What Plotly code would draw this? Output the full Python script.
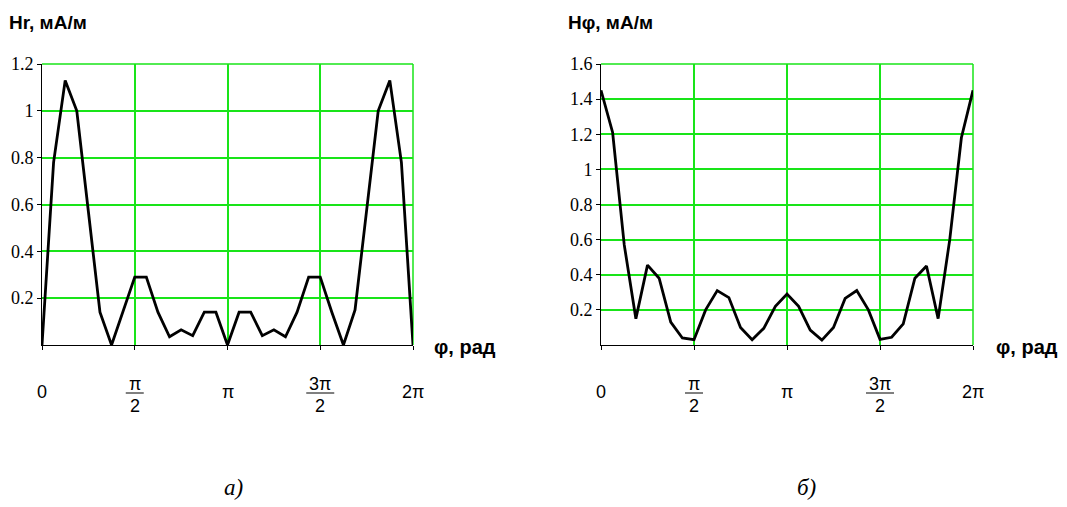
import plotly.graph_objects as go

# angle in units of pi (33 samples over 0..2pi)
phi_pi = [0, 0.0625, 0.125, 0.1875, 0.25, 0.3125, 0.375, 0.4375, 0.5,
          0.5625, 0.625, 0.6875, 0.75, 0.8125, 0.875, 0.9375, 1.0,
          1.0625, 1.125, 1.1875, 1.25, 1.3125, 1.375, 1.4375, 1.5,
          1.5625, 1.625, 1.6875, 1.75, 1.8125, 1.875, 1.9375, 2.0]

Hr = [0.0, 0.78, 1.13, 1.0, 0.57, 0.14, 0.0, 0.15, 0.29,
      0.29, 0.14, 0.035, 0.065, 0.04, 0.14, 0.14, 0.0,
      0.14, 0.14, 0.04, 0.065, 0.035, 0.14, 0.29, 0.29,
      0.14, 0.0, 0.15, 0.57, 1.0, 1.13, 0.78, 0.0]

Hphi = [1.45, 1.21, 0.57, 0.15, 0.455, 0.38, 0.13, 0.04, 0.03,
        0.20, 0.31, 0.27, 0.10, 0.03, 0.095, 0.22, 0.29,
        0.22, 0.085, 0.028, 0.10, 0.265, 0.31, 0.20, 0.032,
        0.044, 0.12, 0.38, 0.45, 0.15, 0.60, 1.18, 1.45]

x_tickvals = [0, 0.5, 1.0, 1.5, 2.0]
x_tick_num = ["0", "π", "π", "3π", "2π"]
x_tick_den = ["", "2", "", "2", ""]

y1_tickvals = [0.2, 0.4, 0.6, 0.8, 1.0, 1.2]
y1_ticktext = ["0.2", "0.4", "0.6", "0.8", "1", "1.2"]
y2_tickvals = [0.2, 0.4, 0.6, 0.8, 1.0, 1.2, 1.4, 1.6]
y2_ticktext = ["0.2", "0.4", "0.6", "0.8", "1", "1.2", "1.4", "1.6"]

y_titles = ["Hr, мА/м", "Hφ, мА/м"]
x_title = "φ, рад"
panel_labels = ["а)", "б)"]

W, H = 1067, 507
OFF = 8  # page body margin offset
GREEN = "rgb(25,228,25)"

fig = go.Figure()
fig.add_trace(go.Scatter(x=phi_pi, y=Hr, mode="lines", xaxis="x", yaxis="y",
                         line=dict(color="black", width=2.8), showlegend=False,
                         cliponaxis=False))
fig.add_trace(go.Scatter(x=phi_pi, y=Hphi, mode="lines", xaxis="x2", yaxis="y2",
                         line=dict(color="black", width=2.8), showlegend=False,
                         cliponaxis=False))

def px_x(p):
    return (p - OFF) / W

def px_y(p):
    return 1 - (p - OFF) / H

ydom = [px_y(345), px_y(64)]
common_x = dict(range=[0, 2], tickvals=x_tickvals, showticklabels=False,
                ticks="outside", ticklen=4, tickcolor="black", tickwidth=1,
                showline=True, linecolor="black", linewidth=1,
                showgrid=True, gridcolor=GREEN, gridwidth=1.5, zeroline=False,
                fixedrange=True, automargin=False)
common_y = dict(ticks="outside", ticklen=4, tickcolor="black", tickwidth=1,
                showline=True, linecolor="black", linewidth=1,
                showgrid=True, gridcolor=GREEN, gridwidth=1.5, zeroline=False,
                tickfont=dict(family="Liberation Serif", size=18, color="black"),
                domain=ydom, fixedrange=True, automargin=False)

fig.update_layout(
    template="none",
    width=W, height=H, margin=dict(l=0, r=0, t=0, b=0, pad=0, autoexpand=False),
    paper_bgcolor="white", plot_bgcolor="white", showlegend=False,
    xaxis=dict(domain=[px_x(42), px_x(413)], anchor="y", **common_x),
    xaxis2=dict(domain=[px_x(601), px_x(973)], anchor="y2", **common_x),
    yaxis=dict(range=[0, 1.2], tickvals=y1_tickvals, ticktext=y1_ticktext,
               anchor="x", **common_y),
    yaxis2=dict(range=[0, 1.6], tickvals=y2_tickvals, ticktext=y2_ticktext,
                anchor="x2", **common_y),
)

annotations = []
shapes = []
# top and right frame lines (grid coloured) at the range ends
for xd, yd in (("x domain", "y domain"), ("x2 domain", "y2 domain")):
    shapes.append(dict(type="line", xref=xd, yref=yd, x0=0, x1=1, y0=1, y1=1,
                       line=dict(color=GREEN, width=1.5), layer="below"))
    shapes.append(dict(type="line", xref=xd, yref=yd, x0=1, x1=1, y0=0, y1=1,
                       line=dict(color=GREEN, width=1.5), layer="below"))

bar_y = px_y(393)
for xr in ("x", "x2"):
    for v, num, den in zip(x_tickvals, x_tick_num, x_tick_den):
        f = dict(family="Liberation Sans", size=18, color="black")
        if den:
            annotations.append(dict(x=v, y=bar_y, xref=xr, yref="paper",
                                    text=num, showarrow=False, font=f,
                                    xanchor="center", yanchor="bottom", yshift=-3))
            annotations.append(dict(x=v, y=bar_y, xref=xr, yref="paper",
                                    text=den, showarrow=False, font=f,
                                    xanchor="center", yanchor="top", yshift=-1))
            half = 9 if len(num) == 1 else 14
            shapes.append(dict(type="line", xref=xr, yref="paper",
                               xsizemode="pixel", xanchor=v, x0=-half, x1=half,
                               y0=bar_y, y1=bar_y,
                               line=dict(color="black", width=1)))
        else:
            annotations.append(dict(x=v, y=bar_y, xref=xr, yref="paper",
                                    text=num, showarrow=False, font=f,
                                    xanchor="center", yanchor="middle", yshift=1))

title_font = dict(family="Liberation Sans", size=19, color="black")
annotations.append(dict(x=px_x(7), y=px_y(22), xref="paper", yref="paper",
                        text="<b>" + y_titles[0] + "</b>", showarrow=False,
                        font=title_font, xanchor="left", yanchor="middle"))
annotations.append(dict(x=px_x(566), y=px_y(22), xref="paper", yref="paper",
                        text="<b>" + y_titles[1] + "</b>", showarrow=False,
                        font=title_font, xanchor="left", yanchor="middle"))
xt_font = dict(family="Liberation Sans", size=20, color="black")
annotations.append(dict(x=px_x(432), y=px_y(347), xref="paper", yref="paper",
                        text="<b>" + x_title + "</b>", showarrow=False,
                        font=xt_font, xanchor="left", yanchor="middle"))
annotations.append(dict(x=px_x(994), y=px_y(347), xref="paper", yref="paper",
                        text="<b>" + x_title + "</b>", showarrow=False,
                        font=xt_font, xanchor="left", yanchor="middle"))
lab_font = dict(family="Liberation Serif", size=23, color="black")
annotations.append(dict(x=px_x(233), y=px_y(487), xref="paper", yref="paper",
                        text="<i>" + panel_labels[0] + "</i>", showarrow=False,
                        font=lab_font, xanchor="center", yanchor="middle"))
annotations.append(dict(x=px_x(806), y=px_y(487), xref="paper", yref="paper",
                        text="<i>" + panel_labels[1] + "</i>", showarrow=False,
                        font=lab_font, xanchor="center", yanchor="middle"))

fig.update_layout(annotations=annotations, shapes=shapes)
fig.write_html("out.html")
